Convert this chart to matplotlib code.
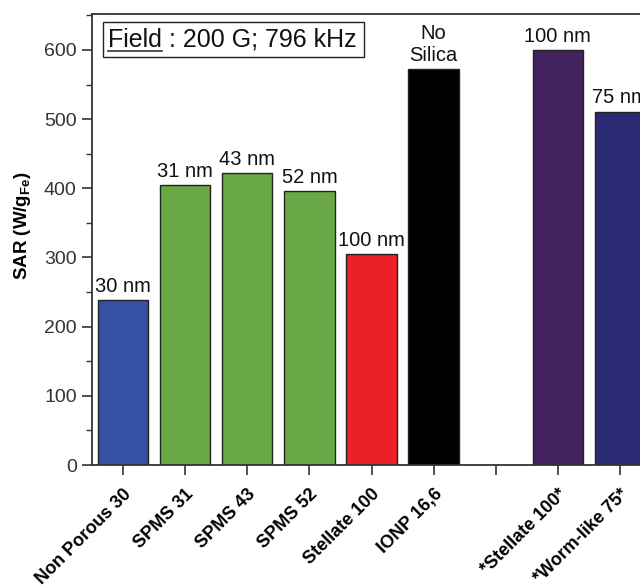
import matplotlib
matplotlib.use("Agg")
import matplotlib.pyplot as plt
import matplotlib.transforms as mtransforms
from matplotlib.lines import Line2D
from matplotlib.patches import Rectangle
from matplotlib.ticker import MultipleLocator

plt.rcParams["font.family"] = ["Liberation Sans", "DejaVu Sans"]
plt.rcParams["mathtext.fontset"] = "custom"
plt.rcParams["mathtext.rm"] = "Liberation Sans"
plt.rcParams["mathtext.bf"] = "Liberation Sans:bold"

# Samples (an empty slot separates the two groups)
categories = ["Non Porous 30", "SPMS 31", "SPMS 43", "SPMS 52", "Stellate 100",
              "IONP 16,6", "", "*Stellate 100*", "*Worm-like 75*"]
sar_values = [238, 405, 422, 396, 305, 572, None, 600, 511]
bar_labels = ["30 nm", "31 nm", "43 nm", "52 nm", "100 nm", "No\nSilica", "", "100 nm", "75 nm"]
bar_colors = ["#3452A4", "#6AA745", "#6AA745", "#6AA745", "#EC2027", "#000000",
              "none", "#43235E", "#2B2B74"]

W, H = 640, 588
fig = plt.figure(figsize=(W / 100, H / 100), dpi=100)
ax = fig.add_axes([92 / W, 123 / H, (651 - 92) / W, (465 - 14) / H])

for i, (v, c, lab) in enumerate(zip(sar_values, bar_colors, bar_labels)):
    if v is None:
        continue
    ax.bar(i, v, width=0.81, color=c, edgecolor="#222222", linewidth=1.0, zorder=2)
    ax.annotate(lab, (i, v), xytext=(0, 3), textcoords="offset points",
                ha="center", va="bottom", fontsize=14.5, color="#111111",
                linespacing=1.2)

ax.set_xlim(-0.5, 8.5)
ax.set_ylim(0, 652)
ax.yaxis.set_major_locator(MultipleLocator(100))
ax.yaxis.set_minor_locator(MultipleLocator(50))
ax.set_xticks(range(len(categories)))
ax.set_xticklabels(categories, rotation=45, ha="right", va="top",
                   rotation_mode="anchor", fontsize=13, fontweight="bold")
shift = mtransforms.ScaledTranslation(4 / 100, 0, fig.dpi_scale_trans)
for t in ax.get_xticklabels():
    t.set_y(-0.014)
    t.set_transform(t.get_transform() + shift)

ax.tick_params(axis="y", which="major", direction="out", length=7, width=1.2,
               labelsize=14, colors="#333333", pad=4)
ax.tick_params(axis="y", which="minor", direction="out", length=4, width=1.0,
               colors="#333333")
ax.tick_params(axis="x", which="major", direction="out", length=7, width=1.2,
               colors="#333333", labelcolor="#000000")

for side in ["left", "bottom", "top"]:
    ax.spines[side].set_linewidth(1.3)
    ax.spines[side].set_color("#333333")
ax.spines["right"].set_visible(False)

ax.set_ylabel(r"SAR (W/g$_{\mathbf{Fe}}$)", fontsize=13.5, fontweight="bold")
ax.yaxis.set_label_coords(-0.106, 0.53)

# Field annotation: underlined word, then the settings, inside a framed box
fx, fy = 108, H - 47
word = fig.text(fx / W, fy / H, "Field", fontsize=18, ha="left", va="baseline",
                color="#111111", zorder=6)
fig.canvas.draw()
wb = word.get_window_extent()
rest = fig.text(wb.x1 / W, fy / H, " : 200 G; 796 kHz", fontsize=18, ha="left",
                va="baseline", color="#111111", zorder=6)
fig.canvas.draw()
rb = rest.get_window_extent()
fig.add_artist(Line2D([wb.x0 / W, wb.x1 / W], [(fy - 4) / H, (fy - 4) / H],
                      transform=fig.transFigure, color="#333333", lw=1.2, zorder=7))
x0, x1 = 103, max(rb.x1 + 5, 364)
y0, y1 = H - 56.5, H - 22
fig.add_artist(Rectangle((x0 / W, y0 / H), (x1 - x0) / W, (y1 - y0) / H,
                         transform=fig.transFigure, fc="white", ec="#222222",
                         lw=1.0, zorder=5))

fig.savefig("out.png", dpi=100)
